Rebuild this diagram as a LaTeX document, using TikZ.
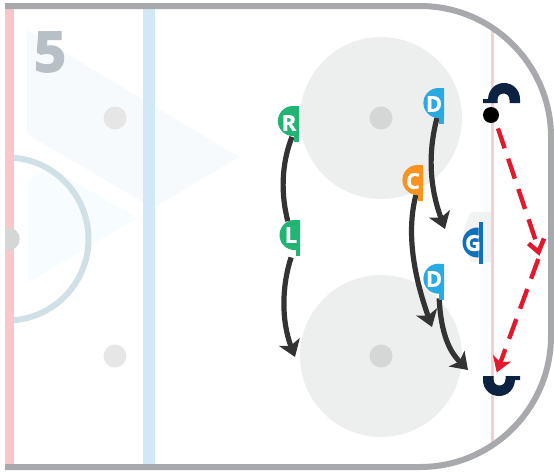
\documentclass[tikz,border=0pt]{standalone}
\usepackage{fontspec}
\setmainfont[BoldFeatures={FakeBold=0.8}]{Open Sans}
\newfontfamily\fivefont[BoldFeatures={FakeBold=3.5}]{Open Sans}
\usetikzlibrary{arrows.meta,calc}
\pgfdeclarelayer{rink}
\pgfdeclarelayer{links}
\pgfsetlayers{rink,links,main}
\definecolor{boardgrey}{HTML}{A7A9AC}
\definecolor{redline}{HTML}{F9C6C9}
\definecolor{goalline}{HTML}{F5CFD2}
\definecolor{blueline}{HTML}{D1E9F7}
\definecolor{zonetri}{HTML}{F6FAFD}
\definecolor{zonetrib}{HTML}{F7FCFF}
\definecolor{centre}{HTML}{CFE0E6}
\definecolor{faceoff}{HTML}{EDEFEF}
\definecolor{dotlight}{HTML}{E6E6E6}
\definecolor{dotdark}{HTML}{D5D7D6}
\definecolor{crease}{HTML}{F1F2F2}
\definecolor{navy}{HTML}{0B2341}
\definecolor{pgreen}{HTML}{21B573}
\definecolor{pblue}{HTML}{29ABE2}
\definecolor{porange}{HTML}{F7931E}
\definecolor{gblue}{HTML}{0F71BC}
\definecolor{skate}{HTML}{333333}
\definecolor{passred}{HTML}{E2192D}
\definecolor{fivegrey}{HTML}{B8BFC7}
\tikzset{
  x=1pt,y=-1pt,
  playerlabel/.style={circle,minimum size=28pt,inner sep=0pt,text=white,font=\fontsize{22}{22}\bfseries},
  skatepath/.style={draw=skate,line width=5.2pt,-{Stealth[length=16pt,width=22pt,inset=4pt]}},
  skatelink/.style={draw=skate,line width=5.2pt},
  passpath/.style={draw=passred,line width=4.4pt,dash pattern=on 21pt off 11pt},
  passtip/.style={draw=passred,line width=4.6pt,miter limit=10},
  puckstyle/.style={circle,fill=black,minimum size=16pt,inner sep=0pt},
  numeral/.style={inner sep=0pt,text=fivegrey,font=\fivefont\fontsize{55}{55}\bfseries},
  netshape/.pic={
    \fill[navy] (483,103) -- (483,99) -- (488,99) .. controls (488.5,90) and (495,83) .. (504,83) .. controls (513,83) and (520,90) .. (520,99) -- (520,103) -- (509.5,103) -- (509.5,100) .. controls (509.5,96) and (507,93.5) .. (503.5,93.5) .. controls (500,93.5) and (497.5,96) .. (497.5,100) -- (497.5,103) -- cycle;
  },
}
\newcommand{\playerbody}[3]{%
  \begin{scope}[shift={(#1,#2)}]
    \begin{scope}
      \clip (-16,-16) rectangle (5.7,22);
      \fill[#3] (0,0) circle[radius=15];
    \end{scope}
    \fill[#3] (1,-15) rectangle (5.7,21);
  \end{scope}}
\begin{document}
\begin{tikzpicture}
\useasboundingbox (0,0) rectangle (554,472);
\begin{pgfonlayer}{rink}
  \fill[zonetri] (27,30) -- (239,157) -- (153,208) -- (27,134) -- cycle;
  \fill[zonetrib] (27.5,180) -- (52,168) -- (137,218) -- (27.5,283) -- cycle;
  \fill[faceoff] (381,118) circle[radius=81];
  \fill[faceoff] (381,356) circle[radius=81];
  \fill[crease] (492,212) -- (471,212) .. controls (466,222) and (463,232) .. (463,237) .. controls (463,242) and (466,252) .. (471,262) -- (492,262) -- cycle;
  \fill[dotlight] (115,118) circle[radius=11.5];
  \fill[dotlight] (115,356) circle[radius=11.5];
  \fill[dotdark] (381,118) circle[radius=11.5];
  \fill[dotdark] (381,356) circle[radius=11.5];
  \fill[blueline] (143,8) rectangle (155,465);
  \begin{scope}
    \clip (14,100) rectangle (120,400);
    \draw[centre,line width=6pt] (7,239) circle[radius=81.5];
  \end{scope}
  \fill[redline] (5,8) rectangle (14,465);
  \begin{scope}
    \clip (5,200) rectangle (30,280);
    \fill[dotdark] (8,239) circle[radius=11.7];
  \end{scope}
  \draw[goalline,line width=3pt] (492,28) -- (492,445);
  \draw[boardgrey,line width=6pt] (5,6) -- (420,6) .. controls (492.3,6) and (551,64.7) .. (551,137) -- (551,336) .. controls (551,408.3) and (492.3,467) .. (420,467) -- (5,467);
  \node[numeral] (five) at (50,52) {5};
  \pic {netshape};
  \pic[rotate around={180:(501.5,239.5)}] {netshape};
\end{pgfonlayer}

\playerbody{292.9}{121}{pgreen}
\playerbody{294.5}{235}{pgreen}
\playerbody{438.4}{103}{pblue}
\playerbody{417.4}{180}{porange}
\playerbody{438.4}{278.7}{pblue}
\begin{scope}[shift={(477.5,242.5)}]
  \begin{scope}
    \clip (-16,-16) rectangle (1,16);
    \fill[gblue] (0,0) circle[radius=15];
  \end{scope}
  \fill[gblue] (1,-21) rectangle (5.5,21);
\end{scope}

\node[playerlabel] (R) at (289,123) {R};
\node[playerlabel] (L) at (291,235) {L};
\node[playerlabel] (D1) at (434,104) {D};
\node[playerlabel] (C) at (413,181) {C};
\node[playerlabel] (D2) at (434,279) {D};
\node[playerlabel] (G) at (473,243) {G};
\node[puckstyle] (puck) at (491,115) {};
\coordinate (Lend) at (295,357);
\coordinate (D1end) at (445,229);
\coordinate (Cend) at (432,327);
\coordinate (D2end) at (468,370);
\coordinate (turn) at (538.5,252);
\coordinate (passend) at (535.5,240);
\coordinate (turnarmA) at (528.5,243.5);
\coordinate (turnarmB) at (544,238.5);
\coordinate (turnout) at (538.3,259);
\node[inner sep=0pt,minimum size=0pt] (netlow) at (496.7,372.7) {};

\begin{pgfonlayer}{links}
  \path[skatelink] (R.-78) .. controls (281,165) and (281,195) .. (L.103);
  \path[skatepath,shorten <=9pt] (L.-78) .. controls (282,285) and (281,320) .. (Lend);
  \path[skatepath] (D1.-78) .. controls (430,145) and (427,180) .. (D1end);
  \path[skatepath] (C.-78) .. controls (408,225) and (410,265) .. (Cend);
  \path[skatepath,shorten <=6pt] (D2.-70) .. controls (441,335) and (450,352) .. (D2end);
  \draw[passpath,shorten <=7pt] (puck.-55) -- (passend);
  \draw[passtip] (turnarmA) -- (turn) -- (turnarmB);
  \draw[passpath,-{Stealth[length=15pt,width=19pt,inset=4pt]}] (turnout) -- (netlow);
\end{pgfonlayer}
\end{tikzpicture}
\end{document}
